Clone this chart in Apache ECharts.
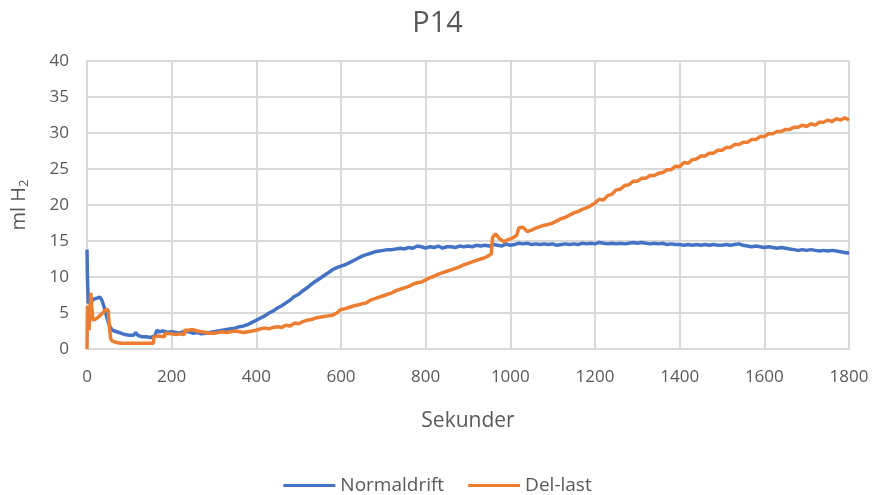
<!DOCTYPE html>
<html>
<head>
<meta charset="utf-8">
<script src="https://cdn.jsdelivr.net/npm/echarts@6/dist/echarts.min.js"></script>
<style>
  html, body { margin: 0; padding: 0; background: #fff; }
  #chart { width: 875px; height: 495px; }
</style>
</head>
<body>
<div id="chart"></div>
<script>
// Normaldrift (blue)
var normalTime = [0, 1, 3, 6, 10, 15, 20, 25, 30, 35, 40, 45, 50, 55, 60, 70, 80, 90, 100, 110, 115, 120, 130, 140, 150, 160, 165, 170, 180, 190, 200,
  210, 220, 230, 240, 250, 260, 270, 280, 290, 300, 310, 320, 330, 340, 350, 360, 370, 380, 390, 400,
  410, 420, 430, 440, 450, 460, 470, 480, 490, 500, 510, 520, 530, 540, 550, 560, 570, 580, 590, 600,
  610, 620, 630, 640, 650, 660, 670, 680, 690, 700, 710, 720, 730, 740, 750, 760, 770, 780, 790, 800,
  810, 820, 830, 840, 850, 860, 870, 880, 890, 900, 910, 920, 930, 940, 950, 960, 970, 980, 990, 1000,
  1010, 1020, 1030, 1040, 1050, 1060, 1070, 1080, 1090, 1100, 1110, 1120, 1130, 1140, 1150, 1160, 1170, 1180, 1190, 1200,
  1210, 1220, 1230, 1240, 1250, 1260, 1270, 1280, 1290, 1300, 1310, 1320, 1330, 1340, 1350, 1360, 1370, 1380, 1390, 1400,
  1410, 1420, 1430, 1440, 1450, 1460, 1470, 1480, 1490, 1500, 1510, 1520, 1530, 1540, 1550, 1560, 1570, 1580, 1590, 1600,
  1610, 1620, 1630, 1640, 1650, 1660, 1670, 1680, 1690, 1700, 1710, 1720, 1730, 1740, 1750, 1760, 1770, 1780, 1790, 1800];
var normalValue = [13.8, 10, 6.4, 6.2, 6.5, 6.9, 7.0, 7.1, 7.2, 6.8, 5.9, 4.8, 3.8, 3.0, 2.6, 2.4, 2.2, 2.0, 1.9, 1.9, 2.3, 1.9, 1.7, 1.7, 1.6, 1.8, 2.6, 2.4, 2.5, 2.3, 2.4,
  2.3, 2.2, 2.5, 2.4, 2.2, 2.3, 2.1, 2.2, 2.3, 2.4, 2.5, 2.6, 2.7, 2.8, 2.9, 3.1, 3.2, 3.4, 3.7, 4.0,
  4.3, 4.6, 5.0, 5.3, 5.7, 6.0, 6.4, 6.8, 7.3, 7.6, 8.1, 8.5, 9.0, 9.4, 9.8, 10.2, 10.6, 11.0, 11.3, 11.5,
  11.7, 12.0, 12.3, 12.6, 12.9, 13.1, 13.3, 13.5, 13.6, 13.7, 13.8, 13.8, 13.9, 14.0, 13.9, 14.1, 14.0, 14.3, 14.2, 14.0,
  14.2, 14.1, 14.3, 14.0, 14.2, 14.2, 14.1, 14.3, 14.2, 14.3, 14.2, 14.4, 14.3, 14.4, 14.3, 14.5, 14.4, 14.3, 14.6, 14.4,
  14.5, 14.7, 14.6, 14.7, 14.5, 14.6, 14.5, 14.6, 14.5, 14.6, 14.4, 14.5, 14.6, 14.5, 14.6, 14.5, 14.7, 14.6, 14.7, 14.6,
  14.8, 14.7, 14.6, 14.7, 14.6, 14.7, 14.6, 14.7, 14.8, 14.7, 14.8, 14.7, 14.6, 14.7, 14.6, 14.7, 14.5, 14.6, 14.5, 14.5,
  14.4, 14.5, 14.4, 14.5, 14.4, 14.5, 14.4, 14.5, 14.4, 14.4, 14.5, 14.4, 14.5, 14.6, 14.4, 14.3, 14.2, 14.3, 14.2, 14.1,
  14.2, 14.1, 14.0, 14.1, 14.0, 13.9, 13.8, 13.7, 13.8, 13.7, 13.8, 13.7, 13.6, 13.7, 13.6, 13.7, 13.6, 13.5, 13.4, 13.3];

// Del-last (orange)
var delTime = [0, 1, 3, 5, 7, 9, 11, 14, 18, 22, 26, 30, 35, 40, 45, 50, 53, 56, 60, 70, 80, 100, 120, 140, 157, 158, 170, 183, 184, 200, 210, 220, 230, 231,
  240, 250, 260, 270, 280, 290, 300, 310, 320, 330, 340, 350, 360, 370, 380, 390, 400,
  410, 420, 430, 440, 450, 460, 470, 480, 490, 500, 510, 520, 530, 540, 550, 560, 570, 580, 590, 600,
  610, 620, 630, 640, 650, 660, 670, 680, 690, 700, 710, 720, 730, 740, 750, 760, 770, 780, 790, 800,
  810, 820, 830, 840, 850, 860, 870, 880, 890, 900, 910, 920, 930, 940, 950, 955, 958, 965, 975, 985, 995,
  1005, 1015, 1020, 1030, 1040, 1050, 1060, 1070, 1080, 1090, 1100, 1110, 1120, 1130, 1140, 1150, 1160, 1170, 1180, 1190, 1200,
  1210, 1220, 1230, 1240, 1250, 1260, 1270, 1280, 1290, 1300, 1310, 1320, 1330, 1340, 1350, 1360, 1370, 1380, 1390, 1400,
  1410, 1420, 1430, 1440, 1450, 1460, 1470, 1480, 1490, 1500, 1510, 1520, 1530, 1540, 1550, 1560, 1570, 1580, 1590, 1600,
  1610, 1620, 1630, 1640, 1650, 1660, 1670, 1680, 1690, 1700, 1710, 1720, 1730, 1740, 1750, 1760, 1770, 1780, 1790, 1800];
var delValue = [0, 6.0, 6.1, 2.6, 5.5, 7.8, 6.0, 4.0, 4.1, 4.2, 4.4, 4.6, 4.9, 5.2, 5.5, 5.4, 3.0, 1.4, 1.1, 0.9, 0.8, 0.8, 0.8, 0.8, 0.8, 1.7, 1.8, 1.7, 2.2, 2.1, 2.0, 2.1, 2.0, 2.6,
  2.6, 2.7, 2.5, 2.4, 2.3, 2.2, 2.2, 2.3, 2.4, 2.3, 2.4, 2.5, 2.4, 2.3, 2.4, 2.5, 2.6,
  2.8, 2.9, 2.8, 3.0, 3.1, 3.0, 3.3, 3.2, 3.6, 3.5, 3.8, 4.0, 4.1, 4.3, 4.4, 4.5, 4.6, 4.7, 5.0, 5.5,
  5.6, 5.8, 6.0, 6.1, 6.3, 6.4, 6.8, 7.0, 7.2, 7.4, 7.6, 7.8, 8.1, 8.3, 8.5, 8.7, 9.0, 9.2, 9.3, 9.6,
  9.9, 10.1, 10.4, 10.6, 10.8, 11.0, 11.2, 11.4, 11.7, 11.9, 12.1, 12.3, 12.5, 12.7, 13.0, 13.2, 15.5, 16.0, 15.3, 14.9, 15.2,
  15.4, 15.8, 16.8, 16.9, 16.3, 16.5, 16.8, 17.0, 17.2, 17.3, 17.5, 17.8, 18.1, 18.3, 18.6, 18.9, 19.1, 19.4, 19.6, 19.9, 20.3,
  20.8, 20.7, 21.3, 21.5, 22.1, 22.2, 22.7, 22.8, 23.3, 23.3, 23.7, 23.7, 24.1, 24.1, 24.4, 24.5, 24.9, 24.9, 25.4, 25.3,
  25.9, 25.8, 26.3, 26.4, 26.8, 26.8, 27.2, 27.2, 27.6, 27.6, 28.0, 28.0, 28.4, 28.4, 28.7, 28.7, 29.1, 29.1, 29.5, 29.5,
  29.9, 29.9, 30.2, 30.2, 30.5, 30.5, 30.8, 30.8, 31.1, 30.9, 31.3, 31.1, 31.5, 31.5, 31.8, 31.6, 32.0, 31.8, 32.1, 31.8];

function pairs(xs, ys) {
  var out = [];
  for (var i = 0; i < xs.length; i++) out.push([xs[i], ys[i]]);
  return out;
}

var grey = '#595959';
var gridCol = '#d9d9d9';
var font = '"Open Sans", "Noto Sans", sans-serif';

var chart = echarts.init(document.getElementById('chart'));
chart.setOption({
  animation: false,
  textStyle: { fontFamily: font },
  title: {
    text: 'P14', left: 'center', top: 4,
    textStyle: { fontSize: 29, fontWeight: 'normal', color: grey, fontFamily: font }
  },
  legend: {
    top: 471, left: 'center',
    icon: 'rect', itemWidth: 52, itemHeight: 3, itemGap: 24,
    textStyle: { fontSize: 19, color: grey, fontFamily: font },
    data: ['Normaldrift', 'Del-last']
  },
  grid: { left: 87, right: 26, top: 61, bottom: 146, containLabel: false, outerBoundsMode: 'none' },
  xAxis: {
    type: 'value', min: 0, max: 1800, interval: 200,
    name: 'Sekunder', nameLocation: 'middle', nameGap: 62,
    nameTextStyle: { fontSize: 21, color: grey },
    axisLine: { lineStyle: { color: gridCol, width: 2 } },
    axisTick: { show: false },
    axisLabel: { fontSize: 17, color: grey, margin: 20, formatter: function (v) { return String(v); } },
    splitLine: { show: true, lineStyle: { color: gridCol, width: 2 } }
  },
  yAxis: {
    type: 'value', min: 0, max: 40, interval: 5,
    name: 'ml H{s|2}', nameLocation: 'middle', nameGap: 56, nameRotate: 90,
    nameTextStyle: {
      fontSize: 20, color: grey,
      rich: { s: { fontSize: 13, color: grey, verticalAlign: 'bottom', padding: [10, 0, 0, 0] } }
    },
    axisLine: { show: true, lineStyle: { color: gridCol, width: 2 } },
    axisTick: { show: false },
    axisLabel: { fontSize: 17, color: grey, margin: 18 },
    splitLine: { lineStyle: { color: gridCol, width: 2 } }
  },
  series: [
    {
      name: 'Normaldrift', type: 'line', symbol: 'none',
      data: pairs(normalTime, normalValue),
      lineStyle: { color: '#4472C4', width: 3.5 },
      itemStyle: { color: '#4472C4' }
    },
    {
      name: 'Del-last', type: 'line', symbol: 'none',
      data: pairs(delTime, delValue),
      lineStyle: { color: '#ED7D31', width: 3.5 },
      itemStyle: { color: '#ED7D31' }
    }
  ]
});
</script>
</body>
</html>
